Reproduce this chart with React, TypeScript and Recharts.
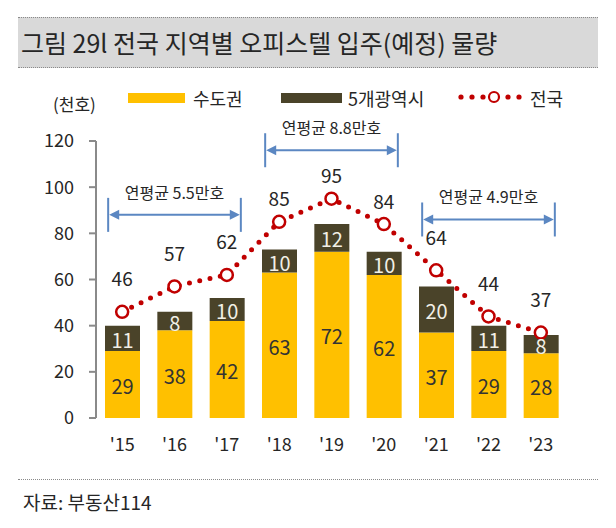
import React from 'react';
import { ComposedChart, Bar, Line, XAxis, YAxis, ReferenceLine, LabelList } from 'recharts';

const years = ["'15", "'16", "'17", "'18", "'19", "'20", "'21", "'22", "'23"];
const capitalArea = [29, 38, 42, 63, 72, 62, 37, 29, 28];
const metroCities = [11, 8, 10, 10, 12, 10, 20, 11, 8];
const nationwide = [46, 57, 62, 85, 95, 84, 64, 44, 37];
const yTicks = [0, 20, 40, 60, 80, 100, 120];
const boundaryTicks = [0, 1, 2, 3, 4, 5, 6, 7, 8, 9];

const averageFrom = ["'15", "'18", "'21"];
const averageTo = ["'17", "'20", "'23"];
const averageLevel = [88, 116, 86];
const averageText = ['연평균 5.5만호', '연평균 8.8만호', '연평균 4.9만호'];

const data = years.map((y, i) => ({
  year: y,
  capital: capitalArea[i],
  metro: metroCities[i],
  total: nationwide[i],
}));

const FONT = "'Noto Sans CJK KR', 'Noto Sans', sans-serif";
const YELLOW = '#FFC000';
const DARK = '#4A4329';
const RED = '#C00000';
const BLUE = '#5B87C2';
const AXIS = '#8A8A8A';
const TEXT = '#262626';

const Bracket = (props: any) => {
  const { x1, x2, y1, text } = props;
  if (x1 == null || x2 == null || y1 == null) return null;
  const L = x1 - 14;
  const R = x2 + 14;
  const y = y1;
  return (
    <g>
      <line x1={L} y1={y - 17} x2={L} y2={y + 17} stroke={BLUE} strokeWidth={2} />
      <line x1={R} y1={y - 17} x2={R} y2={y + 17} stroke={BLUE} strokeWidth={2} />
      <line x1={L + 4} y1={y} x2={R - 4} y2={y} stroke={BLUE} strokeWidth={2} />
      <path d={`M${L + 1},${y} l10,-5 v10 z`} fill={BLUE} />
      <path d={`M${R - 1},${y} l-10,-5 v10 z`} fill={BLUE} />
      <text x={(L + R) / 2} y={y - 23} textAnchor="middle" dominantBaseline="central" fontSize={16} fill={TEXT} fontFamily={FONT}>
        {text}
      </text>
    </g>
  );
};

const segLabel = (color: string) => (props: any) => {
  const { x, y, width, height, value } = props;
  return (
    <text x={x + width / 2} y={y + height / 2 + 1} textAnchor="middle" dominantBaseline="central" fontSize={20} fill={color} fontFamily={FONT}>
      {value}
    </text>
  );
};

const TotalLabel = (props: any) => {
  const { x, y, value, index } = props;
  const off = index >= 3 && index <= 5 ? 24 : 34;
  return (
    <text x={x} y={y - off} textAnchor="middle" dominantBaseline="central" fontSize={19} fill={TEXT} fontFamily={FONT}>
      {value}
    </text>
  );
};

const abs = (left: number, top: number, extra: React.CSSProperties = {}): React.CSSProperties => ({
  position: 'absolute',
  left,
  top,
  ...extra,
});

export default function App() {
  return (
    <div style={{ position: 'fixed', left: 0, top: 0, width: 616, height: 528, background: '#fff', fontFamily: FONT, color: TEXT, overflow: 'hidden' }}>
      {/* Title band */}
      <div style={abs(18, 17, { width: 580, height: 49, background: '#D9D9D9', borderTop: '1px dotted #8a8a8a', borderBottom: '1px dotted #8a8a8a' })} />
      <div style={abs(21, 24, { fontSize: 25, lineHeight: '36px', whiteSpace: 'nowrap' })}>그림 29l 전국 지역별 오피스텔 입주(예정) 물량</div>

      {/* Legend */}
      <div style={abs(53, 91, { fontSize: 17, lineHeight: '26px' })}>(천호)</div>
      <div style={abs(128, 93, { width: 57, height: 10, background: YELLOW })} />
      <div style={abs(193, 85, { fontSize: 18, lineHeight: '26px' })}>수도권</div>
      <div style={abs(281, 93, { width: 61, height: 10, background: DARK })} />
      <div style={abs(348, 85, { fontSize: 18, lineHeight: '26px' })}>5개광역시</div>
      <svg style={abs(455, 88)} width={70} height={20}>
        <circle cx={6} cy={9} r={2.6} fill={RED} />
        <circle cx={17} cy={9} r={2.6} fill={RED} />
        <circle cx={28} cy={9} r={2.6} fill={RED} />
        <circle cx={39} cy={9} r={5} fill="#fff" stroke={RED} strokeWidth={2.2} />
        <circle cx={53} cy={9} r={2.6} fill={RED} />
        <circle cx={64} cy={9} r={2.6} fill={RED} />
      </svg>
      <div style={abs(530, 85, { fontSize: 18, lineHeight: '26px' })}>전국</div>

      <div style={abs(0, 0)}>
        <ComposedChart width={616} height={528} data={data} margin={{ top: 141, right: 49, bottom: 80, left: 0 }} barSize={35}>
          <XAxis
            xAxisId="grid"
            type="number"
            domain={[0, 9]}
            ticks={boundaryTicks}
            tick={false}
            height={0}
            axisLine={{ stroke: AXIS, strokeWidth: 2 }}
            tickLine={{ stroke: AXIS, strokeWidth: 2 }}
            tickSize={6}
          />
          <XAxis
            dataKey="year"
            interval={0}
            axisLine={false}
            tickLine={false}
            tickMargin={14}
            height={30}
            tick={{ fill: TEXT, fontSize: 18, fontFamily: FONT }}
          />
          <YAxis
            domain={[0, 120]}
            ticks={yTicks}
            interval={0}
            width={96}
            axisLine={{ stroke: AXIS, strokeWidth: 2 }}
            tickLine={{ stroke: AXIS, strokeWidth: 2 }}
            tickSize={7}
            tickMargin={15}
            tick={{ fill: TEXT, fontSize: 18, fontFamily: FONT }}
          />
          <Bar dataKey="capital" stackId="a" fill={YELLOW} isAnimationActive={false}>
            <LabelList dataKey="capital" content={segLabel('#333333')} />
          </Bar>
          <Bar dataKey="metro" stackId="a" fill={DARK} isAnimationActive={false}>
            <LabelList dataKey="metro" content={segLabel('#F2F0E6')} />
          </Bar>
          <Line
            dataKey="total"
            stroke={RED}
            strokeWidth={5}
            strokeDasharray="0 10.5"
            strokeLinecap="round"
            dot={{ r: 6, fill: '#fff', stroke: RED, strokeWidth: 2.5, strokeDasharray: '0' }}
            activeDot={false}
            label={TotalLabel}
            isAnimationActive={false}
          />
          {averageText.map((t, i) => (
            <ReferenceLine
              key={t}
              segment={[
                { x: averageFrom[i], y: averageLevel[i] },
                { x: averageTo[i], y: averageLevel[i] },
              ]}
              shape={(p: any) => <Bracket {...p} text={t} />}
            />
          ))}
        </ComposedChart>
      </div>

      {/* Footer */}
      <div style={abs(18, 479, { width: 580, height: 0, borderTop: '1px dotted #8a8a8a' })} />
      <div style={abs(23, 488, { fontSize: 19, lineHeight: '28px', whiteSpace: 'nowrap' })}>자료: 부동산114</div>
    </div>
  );
}
